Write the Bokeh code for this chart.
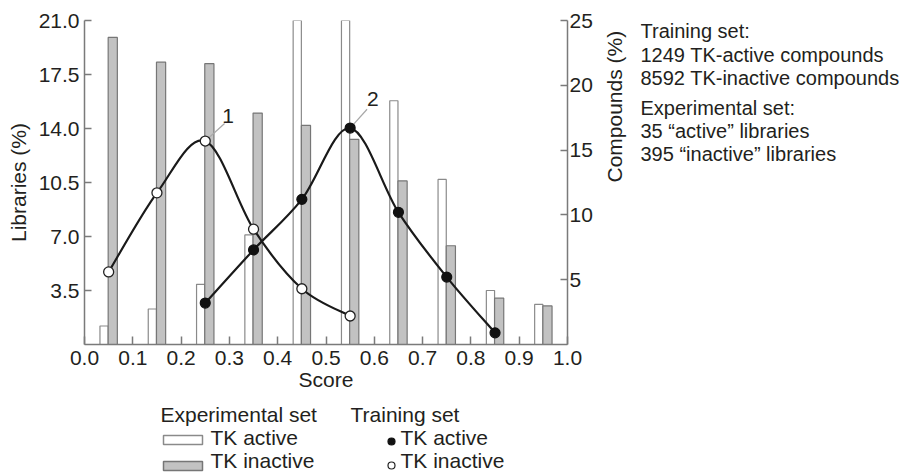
import math
from bokeh.plotting import figure
from bokeh.layouts import column, row
from bokeh.models import Range1d, LinearAxis, FixedTicker, Label
from bokeh.transform import dodge
from bokeh.core.properties import value
from bokeh.embed import file_html
from bokeh.resources import INLINE

# ---------------- data ----------------
bin_centers = [0.05, 0.15, 0.25, 0.35, 0.45, 0.55, 0.65, 0.75, 0.85, 0.95]
exp_active = [1.2, 2.3, 3.9, 7.1, 21.0, 21.0, 15.8, 10.7, 3.5, 2.6]        # Libraries (%)
exp_inactive = [19.9, 18.3, 18.2, 15.0, 14.2, 13.3, 10.6, 6.4, 3.0, 2.5]   # Libraries (%)

train_inactive_x = [0.05, 0.15, 0.25, 0.35, 0.45, 0.55]
train_inactive = [5.6, 11.7, 15.7, 8.9, 4.3, 2.2]                          # Compounds (%)
train_active_x = [0.25, 0.35, 0.45, 0.55, 0.65, 0.75, 0.85]
train_active = [3.2, 7.3, 11.2, 16.7, 10.2, 5.2, 0.9]                      # Compounds (%)

x_ticks = [0.0, 0.1, 0.2, 0.3, 0.4, 0.5, 0.6, 0.7, 0.8, 0.9, 1.0]
x_tick_labels = ["0.0", "0.1", "0.2", "0.3", "0.4", "0.5", "0.6", "0.7", "0.8", "0.9", "1.0"]
left_ticks = [3.5, 7.0, 10.5, 14.0, 17.5, 21.0]
left_tick_labels = ["3.5", "7.0", "10.5", "14.0", "17.5", "21.0"]
right_ticks = [5, 10, 15, 20, 25]
right_tick_labels = ["5", "10", "15", "20", "25"]

summary_lines = ["Training set:", "1249 TK-active compounds", "8592 TK-inactive compounds",
                 "Experimental set:", "35 \u201cactive\u201d libraries", "395 \u201cinactive\u201d libraries"]

legend_titles = ["Experimental set", "Training set"]
legend_labels = ["TK active", "TK inactive"]

# ---------------- style ----------------
FONT = "Liberation Sans"
FS = "21px"
TXT = "#231f20"
AX = "#7a7a7a"
W, H = 905, 473
MAIN_W, MAIN_H = 640, 402
FL, FR, FT, FB = 84, 568, 20, 344   # frame edges in px
ACT_FILL, ACT_LINE = "white", "#8a8a8a"
INACT_FILL, INACT_LINE = "#c2c2c2", "#767676"

fig = figure(width=MAIN_W, height=MAIN_H, x_range=Range1d(0, 1), y_range=Range1d(0, 21),
             output_backend="svg", toolbar_location=None,
             min_border_left=FL, min_border_right=MAIN_W - FR, min_border_top=FT,
             min_border_bottom=MAIN_H - FB)
fig.extra_y_ranges = {"right": Range1d(0, 25)}
fig.outline_line_color = None
fig.xgrid.visible = False
fig.ygrid.visible = False
fig.background_fill_color = "white"
fig.border_fill_color = "white"


def px_to_x(px):
    return (px - FL) / (FR - FL)


def py_to_y(py):
    return (FB - py) / (FB - FT) * 21.0


def style_axis(ax):
    ax.axis_line_color = AX
    ax.axis_line_width = 1.5
    ax.major_tick_line_color = AX
    ax.major_tick_line_width = 1.5
    ax.major_tick_in = 7
    ax.major_tick_out = 0
    ax.minor_tick_line_color = None
    ax.major_label_text_font = FONT
    ax.major_label_text_font_size = FS
    ax.major_label_text_color = TXT
    ax.axis_label_text_font = FONT
    ax.axis_label_text_font_size = FS
    ax.axis_label_text_font_style = "normal"
    ax.axis_label_text_color = TXT


xa = fig.xaxis[0]
xa.ticker = FixedTicker(ticks=x_ticks)
xa.major_label_overrides = {t: l for t, l in zip(x_ticks, x_tick_labels)}
xa.axis_label = "Score"
style_axis(xa)
xa.major_tick_in = 8
xa.major_label_standoff = 6
xa.axis_label_standoff = 0

ya = fig.yaxis[0]
ya.ticker = FixedTicker(ticks=left_ticks)
ya.major_label_overrides = {t: l for t, l in zip(left_ticks, left_tick_labels)}
ya.axis_label = "Libraries (%)"
style_axis(ya)
ya.major_label_standoff = 5
ya.axis_label_standoff = 6

ra = LinearAxis(y_range_name="right", ticker=FixedTicker(ticks=right_ticks),
                axis_label="Compounds (%)")
ra.major_label_overrides = {t: l for t, l in zip(right_ticks, right_tick_labels)}
style_axis(ra)
ra.major_label_standoff = 2
ra.axis_label_standoff = 19
ra.axis_label_orientation = math.pi / 2
fig.add_layout(ra, "right")

# ---------------- bars ----------------
src = dict(x=bin_centers, a=exp_active, i=exp_inactive)
fig.vbar(x=dodge("x", -0.0095), top="a", width=0.017, bottom=0, source=src,
         fill_color=ACT_FILL, line_color=ACT_LINE, line_width=1.2)
fig.vbar(x=dodge("x", 0.0085), top="i", width=0.019, bottom=0, source=src,
         fill_color=INACT_FILL, line_color=INACT_LINE, line_width=1.2)


# ---------------- smooth curves ----------------
def bezier_segments(xs, ys):
    n = len(xs)
    out = dict(x0=[], y0=[], x1=[], y1=[], cx0=[], cy0=[], cx1=[], cy1=[])
    for k in range(n - 1):
        a = k - 1 if k > 0 else k
        d = k + 2 if k + 2 < n else k + 1
        out["x0"].append(xs[k]); out["y0"].append(ys[k])
        out["x1"].append(xs[k + 1]); out["y1"].append(ys[k + 1])
        out["cx0"].append(xs[k] + (xs[k + 1] - xs[a]) / 6.0)
        out["cy0"].append(ys[k] + (ys[k + 1] - ys[a]) / 6.0)
        out["cx1"].append(xs[k + 1] - (xs[d] - xs[k]) / 6.0)
        out["cy1"].append(ys[k + 1] - (ys[d] - ys[k]) / 6.0)
    return out


for xs_, ys_ in [(train_inactive_x, train_inactive), (train_active_x, train_active)]:
    fig.bezier(source=bezier_segments(xs_, ys_), x0="x0", y0="y0", x1="x1", y1="y1",
               cx0="cx0", cy0="cy0", cx1="cx1", cy1="cy1", line_color="#1a1a1a", line_width=2.2,
               y_range_name="right")

# leader lines and curve numbers
i_pk = train_inactive.index(max(train_inactive))
a_pk = train_active.index(max(train_active))
fig.segment(x0=[train_inactive_x[i_pk], train_active_x[a_pk]],
            y0=[train_inactive[i_pk], train_active[a_pk]],
            x1=[train_inactive_x[i_pk] + 0.04, train_active_x[a_pk] + 0.035],
            y1=[train_inactive[i_pk] + 1.35, train_active[a_pk] + 1.45],
            line_color="#a8a8a8", line_width=1.2, y_range_name="right")

fig.scatter(train_active_x, train_active, size=10, marker="circle", fill_color="#111111",
            line_color="#111111", line_width=1.2, y_range_name="right")
fig.scatter(train_inactive_x, train_inactive, size=10, marker="circle", fill_color="white",
            line_color="#222222", line_width=1.3, y_range_name="right")

for txt, px, py in [("1", 228, 115), ("2", 373, 98)]:
    fig.add_layout(Label(x=px_to_x(px), y=py_to_y(py), text=txt, text_font=FONT, text_font_size=FS,
                         text_color=TXT, text_align="center", text_baseline="middle"))


def blank_fig(w, h, xr, yr):
    f = figure(width=w, height=h, x_range=xr, y_range=yr,
               output_backend="svg", toolbar_location=None, title=None,
               x_axis_location=None, y_axis_location=None,
               min_border_left=0, min_border_right=0, min_border_top=0, min_border_bottom=0)
    f.outline_line_color = None
    f.xgrid.visible = False
    f.ygrid.visible = False
    f.background_fill_color = "white"
    f.border_fill_color = "white"
    return f


# ---------------- right-hand notes (frame is aligned with the chart frame vertically) ----------------
NOTES_W = W - MAIN_W
notes = blank_fig(NOTES_W, MAIN_H, Range1d(MAIN_W, W), Range1d(FB, FT))
note_y = [30, 54, 77, 107, 130, 153]
notes.text(x=[MAIN_W] * len(summary_lines), y=note_y, text=summary_lines,
           text_font=value(FONT), text_font_size="20px", text_color=TXT,
           text_align="left", text_baseline="middle")

# ---------------- legend strip (below the chart) ----------------
LEG_H = H - MAIN_H
leg = blank_fig(W, LEG_H, Range1d(0, W), Range1d(H, MAIN_H))
leg.text(x=[160, 350], y=[414, 414], text=legend_titles,
         text_font=value(FONT), text_font_size=FS, text_color=TXT,
         text_align="left", text_baseline="middle")
leg.quad(left=[163, 163], right=[202, 202], top=[435, 461], bottom=[444, 470],
         fill_color=[ACT_FILL, INACT_FILL], line_color=[ACT_LINE, INACT_LINE], line_width=1.5)
leg.text(x=[210, 210], y=[437, 460], text=legend_labels,
         text_font=value(FONT), text_font_size=FS, text_color=TXT,
         text_align="left", text_baseline="middle")
leg.scatter(x=[391, 391], y=[441, 465], size=[7, 7], marker="circle",
            fill_color=["#111111", "white"], line_color=["#111111", "#222222"], line_width=1.2)
leg.text(x=[400, 400], y=[437, 460], text=legend_labels,
         text_font=value(FONT), text_font_size=FS, text_color=TXT,
         text_align="left", text_baseline="middle")

layout = column(row(fig, notes, spacing=0), leg, spacing=0)
open("out.html", "w").write(file_html(layout, INLINE))
